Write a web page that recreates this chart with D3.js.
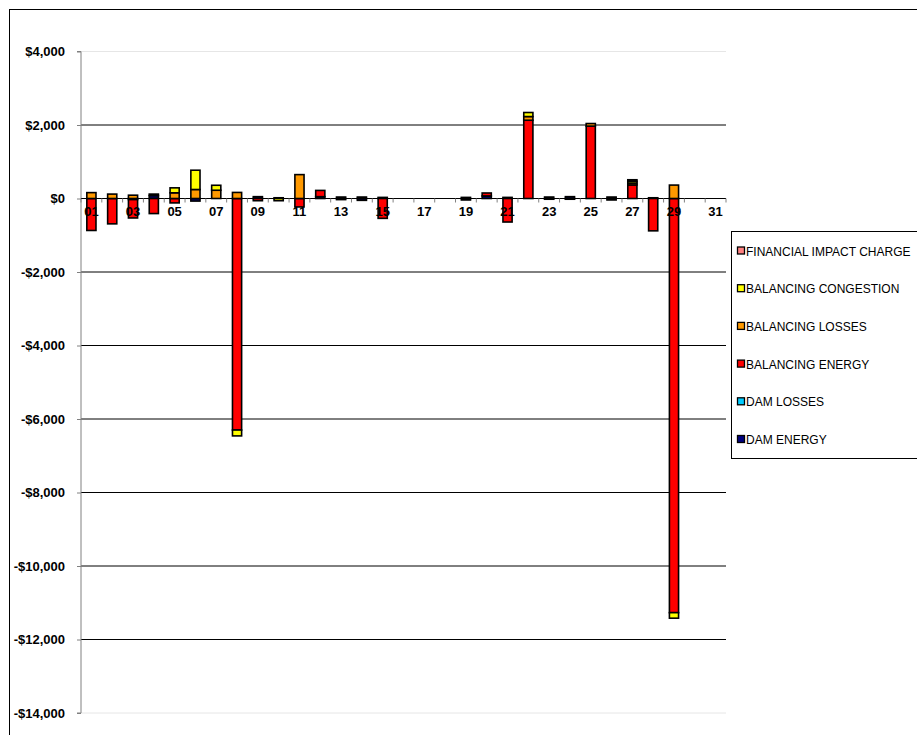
<!DOCTYPE html>
<html>
<head>
<meta charset="utf-8">
<script src="https://cdn.jsdelivr.net/npm/d3@7"></script>
<style>
  html, body { margin: 0; padding: 0; background: #fff; }
  svg { display: block; }
</style>
</head>
<body>
<svg id="chart" width="917" height="735"></svg>
<script>
// ---- data ----
const days = ["01","02","03","04","05","06","07","08","09","10","11","12","13","14","15","16",
              "17","18","19","20","21","22","23","24","25","26","27","28","29","30","31"];
const seriesNames = ["DAM ENERGY","DAM LOSSES","BALANCING ENERGY","BALANCING LOSSES","BALANCING CONGESTION","FINANCIAL IMPACT CHARGE"];
const seriesColors = ["#000080","#00CCFF","#FF0000","#FF9900","#FFFF00","#FF8080"];
//                01    02    03    04    05    06    07     08   09   10    11   12   13   14    15 16 17 18 19  20    21    22   23   24    25   26   27    28      29 30 31
const damEnergy   = [0,    0,  -30,   80,    0,  -70,    0,     0,  50,  20,    0,  50,  40, -50,   30, 0, 0, 0, 30, 70,   30,    0,  40,  50,    0,  40,   0,   20,      0, 0, 0];
const damLosses   = [0,    0,    0,    0,    0,    0,    0,     0,   0,   0,    0,   0,   0,   0,    0, 0, 0, 0,  0,  0,    0,    0,   0,   0,    0,   0,   0,    0,      0, 0, 0];
const balEnergy   = [-870,-690, -500, -410, -120,    0,    0, -6300, -60,   0, -230, 170, -30,   0, -540, 0, 0, 0,-40, 80, -640, 2130, -20, -20, 1970, -40, 370, -880, -11270, 0, 0];
const balLosses   = [160,  120,   90,    0,  155,  245,  225,   165,   0,   0,  650,   0,   0,  40,    0, 0, 0, 0,  0,  0,    0,  100,   0,   0,   70,   0,  50,    0,    365, 0, 0];
const balCong     = [0,      0,    0,   40,  135,  525,  135,  -160,   0, -60,    0,   0,   0,   0,    0, 0, 0, 0,  0,  0,    0,  110,   0,   0,    0,   0,  50,    0,   -150, 0, 0];
const finImpact   = [0,      0,    0,    0,    0,    0,    0,     0,   0,   0,    0,   0,   0,   0,    0, 0, 0, 0,  0,  0,    0,    0,   0,   0,    0,   0,  40,    0,      0, 0, 0];
const yTicks = [4000, 2000, 0, -2000, -4000, -6000, -8000, -10000, -12000, -14000];

const seriesValues = [damEnergy, damLosses, balEnergy, balLosses, balCong, finImpact];
const table = days.map((d, i) => {
  const row = { day: d };
  seriesNames.forEach((s, k) => row[s] = seriesValues[k][i]);
  return row;
});

// ---- layout ----
const svg = d3.select("#chart");
const plot = { left: 81, right: 726, top: 51.5, bottom: 713 };

// outer border
svg.append("rect").attr("x", 9.5).attr("y", 9.5).attr("width", 960).attr("height", 760)
  .attr("fill", "#fff").attr("stroke", "#000").attr("stroke-width", 1);

const x = d3.scaleBand().domain(days).range([plot.left, plot.right]).paddingInner(0.56).paddingOuter(0.28);
const y = d3.scaleLinear().domain([-14000, 4000]).range([plot.bottom, plot.top]);

// gridlines
svg.append("g").selectAll("line").data(yTicks).join("line")
  .attr("x1", plot.left).attr("x2", plot.right)
  .attr("y1", d => y(d)).attr("y2", d => y(d))
  .attr("stroke", d => (d === 4000 || d === -14000) ? "#e6e6e6" : "#000")
  .attr("stroke-width", 1);

// y axis
const yAxis = d3.axisLeft(y).tickValues(yTicks).tickSize(4)
  .tickFormat(d => (d < 0 ? "-$" : "$") + d3.format(",")(Math.abs(d)));
const gy = svg.append("g").attr("transform", `translate(${plot.left},0)`).call(yAxis);
gy.select(".domain").attr("stroke", "#808080").attr("d", `M-4,${y(4000)}H0V${y(-14000)}H-4`);
gy.selectAll(".tick line").attr("stroke", "#808080");
gy.selectAll(".tick text").attr("x", -16)
  .attr("font-family", "Liberation Sans, Arial, sans-serif").attr("font-size", 13)
  .attr("font-weight", "bold").attr("fill", "#000");

// stacked bars
const stack = d3.stack().keys(seriesNames).offset(d3.stackOffsetDiverging);
const stacked = stack(table);
const gBars = svg.append("g");
stacked.forEach((layer, k) => {
  gBars.append("g").attr("fill", seriesColors[k]).attr("stroke", "#000").attr("stroke-width", 1.6)
    .selectAll("rect").data(layer.filter(d => d[1] !== d[0])).join("rect")
    .attr("x", d => x(d.data.day))
    .attr("width", x.bandwidth())
    .attr("y", d => y(Math.max(d[0], d[1])))
    .attr("height", d => Math.abs(y(d[0]) - y(d[1])));
});

// zero line / category axis
const y0 = y(0);
svg.append("line").attr("x1", plot.left).attr("x2", plot.right).attr("y1", y0).attr("y2", y0)
  .attr("stroke", "#000").attr("stroke-width", 1);
const step = x.step();
svg.append("g").selectAll("line").data(d3.range(days.length + 1)).join("line")
  .attr("x1", i => plot.left + i * step).attr("x2", i => plot.left + i * step)
  .attr("y1", y0).attr("y2", y0 + 4).attr("stroke", "#808080");
svg.append("g").selectAll("text").data(days.filter((d, i) => i % 2 === 0)).join("text")
  .attr("x", d => x(d) + x.bandwidth() / 2).attr("y", y0 + 17)
  .attr("text-anchor", "middle")
  .attr("font-family", "Liberation Sans, Arial, sans-serif").attr("font-size", 13)
  .attr("font-weight", "bold").attr("fill", "#000")
  .text(d => d);

// legend
const lg = svg.append("g");
lg.append("rect").attr("x", 731.5).attr("y", 231.5).attr("width", 200).attr("height", 227)
  .attr("fill", "#fff").attr("stroke", "#000");
const legendOrder = seriesNames.map((s, k) => ({ name: s, color: seriesColors[k] })).reverse();
const items = lg.selectAll("g").data(legendOrder).join("g")
  .attr("transform", (d, i) => `translate(0,${251 + i * 37.7})`);
items.append("rect").attr("x", 737.5).attr("y", -4).attr("width", 7).attr("height", 7)
  .attr("fill", d => d.color).attr("stroke", "#000").attr("stroke-width", 1.3);
items.append("text").attr("x", 746).attr("y", 4.5)
  .attr("font-family", "Liberation Sans, Arial, sans-serif").attr("font-size", 12)
  .attr("fill", "#000").text(d => d.name);
</script>
</body>
</html>
